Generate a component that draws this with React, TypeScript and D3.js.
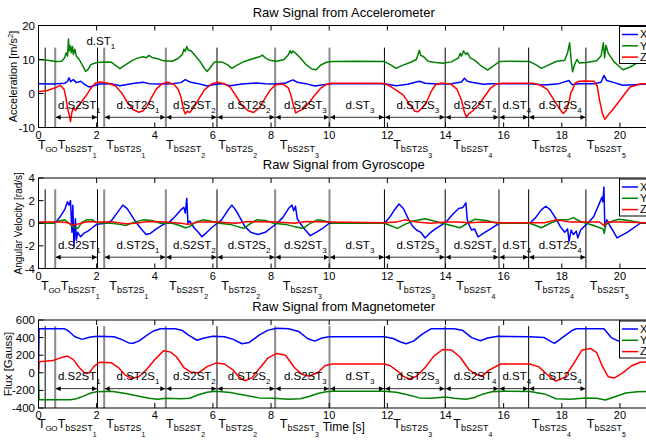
import React from 'react';
import * as d3 from 'd3';

// ---- data ----
const TIME_TICKS = [0, 2, 4, 6, 8, 10, 12, 14, 16, 18, 20];
const ACC_TICKS = [-10, 0, 10, 20];
const GYR_TICKS = [-4, -2, 0, 2, 4];
const MAG_TICKS = [-400, -200, 0, 200, 400, 600];
const AXES = ['X', 'Y', 'Z'];

const EVENT_TIMES = [0.23, 0.575, 2.03, 2.26, 4.38, 6.14, 8.14, 10.01, 11.9, 13.99, 15.84, 16.86, 18.83];
const EVENT_GREY = [false, true, false, true, true, false, true, true, false, false, true, false, false];

const PHASE_START = [0.575, 2.26, 4.38, 6.14, 8.14, 10.01, 11.9, 13.99, 15.84, 16.86];
const PHASE_END = [2.03, 4.38, 6.14, 8.14, 10.01, 11.9, 13.99, 15.84, 16.86, 18.83];
const PHASE_NAME = ['S2ST', 'ST2S', 'S2ST', 'ST2S', 'S2ST', 'ST', 'ST2S', 'S2ST', 'ST', 'ST2S'];
const PHASE_IDX = ['1', '1', '2', '2', '3', '3', '3', '4', '4', '4'];

const MARK_TIMES = [-0.02, 0.66, 2.33, 4.39, 6.18, 8.3, 12.2, 14.27, 16.97, 18.86];
const MARK_NAME = ['GO', 'bS2ST', 'bST2S', 'bS2ST', 'bST2S', 'bS2ST', 'bST2S', 'bS2ST', 'bST2S', 'bS2ST'];
const MARK_IDX = ['', '1', '1', '2', '2', '3', '3', '4', '4', '5'];

const ACC_X = [[0,2.9],[0.5,2.8],[0.9,3.0],[1.0,3.6],[1.05,4.6],[1.1,3.5],[1.2,4.1],[1.3,3.2],[1.45,3.6],[1.6,2.6],[1.75,1.9],[1.9,2.3],[2.1,2.8],[2.5,2.9],[2.8,2.3],[3.0,2.6],[3.3,3.0],[3.6,3.3],[3.8,2.9],[4.2,2.8],[4.6,2.9],[4.9,3.2],[5.05,4.1],[5.2,3.4],[5.5,2.9],[5.8,2.2],[6.0,2.6],[6.3,2.9],[6.6,2.3],[7.0,2.8],[7.5,3.1],[7.8,2.9],[8.1,2.8],[8.5,3.1],[8.75,4.0],[8.9,3.3],[9.2,2.9],[9.5,2.2],[9.8,2.6],[10.1,2.9],[11.9,2.9],[12.3,2.3],[12.7,2.7],[13.1,3.6],[13.3,3.0],[13.7,2.8],[14.2,2.9],[14.55,3.4],[14.65,4.5],[14.75,3.6],[14.9,3.3],[15.3,2.7],[15.6,2.9],[16.9,2.9],[17.4,2.5],[17.9,2.9],[18.25,3.8],[18.35,2.6],[18.6,2.9],[19.1,2.9],[19.35,3.3],[19.45,5.3],[19.55,3.8],[19.8,3.2],[20.1,2.4],[20.5,2.6],[21,2.8]];
const ACC_Y = [[0,10],[0.3,9.8],[0.6,9.4],[0.8,9.5],[0.9,10.5],[0.95,12],[1.0,11],[1.03,16],[1.06,12.5],[1.1,14],[1.13,12],[1.17,13.8],[1.2,11.5],[1.25,13],[1.3,11],[1.4,10],[1.5,8.5],[1.62,6.5],[1.7,7],[1.8,8.5],[2.0,9.1],[2.3,9.3],[2.5,9.2],[2.65,8.3],[2.8,7.3],[2.95,8.2],[3.2,9.6],[3.4,10.4],[3.6,10.8],[3.7,10.5],[3.8,11.2],[3.9,10.6],[4.1,10.2],[4.3,9.6],[4.6,9.5],[4.8,10.3],[4.95,11.5],[5.0,13],[5.05,12.4],[5.1,13.8],[5.15,12.8],[5.25,12.5],[5.4,11],[5.55,9.5],[5.7,7.5],[5.8,6.5],[5.9,7.5],[6.05,9.3],[6.3,9.3],[6.5,8.5],[6.65,7.4],[6.8,8.2],[7.1,9.5],[7.4,10.3],[7.6,10.8],[7.7,11.3],[7.8,10.5],[7.95,9.8],[8.2,9.5],[8.45,10],[8.6,11.5],[8.65,12.6],[8.7,11.8],[8.75,12.5],[8.85,11.8],[9.0,10.5],[9.2,8.5],[9.4,7.2],[9.55,7],[9.7,8.3],[9.9,9.2],[10.1,9.4],[11,9.5],[11.9,9.4],[12.1,8.5],[12.3,7.4],[12.5,8.2],[12.8,9.2],[13.0,10],[13.1,12.7],[13.15,11.2],[13.25,10.8],[13.4,9.5],[13.6,9.2],[13.9,8.9],[14.2,9.3],[14.45,10.5],[14.5,11.8],[14.55,11],[14.62,12.5],[14.7,11.5],[14.75,12],[14.85,10.5],[15.0,9.8],[15.2,8.3],[15.45,6.9],[15.6,7.8],[15.85,9.4],[16.2,9.5],[16.9,9.4],[17.1,8.5],[17.3,7.4],[17.5,8.2],[17.8,9.4],[18.1,9.8],[18.2,12],[18.27,14.9],[18.32,10],[18.37,6.4],[18.44,8.5],[18.52,10],[18.6,9],[18.9,9.2],[19.2,9.6],[19.35,11],[19.43,14.9],[19.47,10.5],[19.52,14.2],[19.6,11.8],[19.8,9.3],[20.0,7.8],[20.1,7.0],[20.35,7.8],[20.6,9.0],[21,9.4]];
const ACC_Z = [[0,0.5],[0.3,0.9],[0.55,1.6],[0.75,2.4],[0.88,1.2],[0.95,-1.5],[1.0,-4.5],[1.05,-6],[1.1,-8.3],[1.15,-5.5],[1.2,-4.2],[1.28,-5],[1.35,-3.8],[1.5,-2.2],[1.65,-0.5],[1.8,1.5],[1.95,3],[2.1,3.4],[2.4,3],[2.65,2.2],[2.85,0.3],[3.05,-2.5],[3.25,-4.7],[3.45,-5.5],[3.6,-5.1],[3.75,-3.5],[3.9,-1],[4.05,1.3],[4.25,2.9],[4.45,3.3],[4.65,2.7],[4.8,1.3],[4.9,-1],[4.98,-4.5],[5.05,-6],[5.12,-5.2],[5.2,-5.6],[5.35,-4],[5.5,-1.8],[5.7,1],[5.95,2.8],[6.15,3.3],[6.4,2.9],[6.6,1.8],[6.8,-0.8],[7.0,-3.5],[7.2,-5],[7.4,-5.6],[7.6,-4.2],[7.75,-2],[7.95,0.8],[8.15,2.6],[8.4,2.8],[8.6,1.6],[8.7,-1],[8.78,-4],[8.85,-5.7],[8.95,-5.2],[9.1,-4.6],[9.3,-2.8],[9.5,-0.5],[9.7,1.5],[9.9,2.7],[10.1,3],[11.8,3],[12.05,2.4],[12.3,1],[12.55,-0.5],[12.75,-3],[12.95,-5.2],[13.05,-5.4],[13.2,-4.2],[13.35,-2.5],[13.5,0.5],[13.65,2.5],[13.85,3.1],[14.2,2.7],[14.4,1.2],[14.55,-2],[14.65,-5.5],[14.72,-6.9],[14.8,-6],[14.95,-5],[15.15,-3.3],[15.35,-0.8],[15.55,1.6],[15.75,2.8],[15.95,3],[17.0,3],[17.25,2.5],[17.5,1.2],[17.7,-1.5],[17.9,-4.2],[18.05,-5.9],[18.15,-5],[18.25,-2.5],[18.32,0.5],[18.37,1],[18.45,3],[18.6,3.6],[18.8,3.7],[19.1,3.6],[19.22,2.2],[19.3,-2],[19.4,-6],[19.48,-7.6],[19.58,-6.5],[19.75,-4.8],[20.0,-2],[20.2,0.3],[20.35,1.9],[20.7,2.8],[21,2.9]];

const GYR_X = [[0,0],[0.5,0],[0.6,0.1],[0.75,0.6],[0.9,1.2],[1.0,1.9],[1.05,1.6],[1.1,2.0],[1.15,-0.8],[1.18,1.6],[1.22,-2],[1.27,0.4],[1.3,-1.5],[1.35,-0.8],[1.45,-1.2],[1.55,-0.9],[1.7,-0.7],[1.85,-0.4],[2.0,-0.1],[2.3,0],[2.5,0.2],[2.7,0.9],[2.9,1.6],[3.05,1.3],[3.2,0.7],[3.35,0.1],[3.5,-0.4],[3.7,-1.0],[3.85,-0.9],[4.05,-0.5],[4.3,-0.1],[4.5,0.1],[4.7,0.6],[4.9,1.2],[5.0,1.4],[5.05,0.9],[5.1,2.2],[5.14,0],[5.2,0.2],[5.35,-0.4],[5.5,-0.8],[5.62,-1.2],[5.75,-0.9],[5.95,-0.4],[6.15,0],[6.3,0.3],[6.5,1.1],[6.65,1.6],[6.8,1.1],[6.95,0.4],[7.1,-0.3],[7.3,-0.8],[7.55,-1.0],[7.8,-0.8],[8.0,-0.4],[8.2,0],[8.4,0.5],[8.6,1.3],[8.72,1.6],[8.78,1.1],[8.84,1.5],[8.9,0.4],[9.0,0],[9.15,-0.5],[9.35,-1.1],[9.55,-0.8],[9.8,-0.4],[10.0,0],[11.9,0],[12.1,0.6],[12.25,1.2],[12.4,1.7],[12.55,1.3],[12.7,0.5],[12.85,-0.2],[13.0,-0.6],[13.15,-0.8],[13.3,-1.3],[13.45,-0.9],[13.65,-0.5],[13.9,-0.1],[14.05,0.2],[14.25,0.8],[14.45,1.3],[14.6,1.4],[14.7,1.8],[14.75,0.3],[14.82,-0.2],[14.9,-0.6],[15.0,-0.5],[15.12,-1.2],[15.3,-0.9],[15.55,-0.5],[15.85,0],[16.9,0],[17.1,0.5],[17.3,1.2],[17.45,1.5],[17.6,1.2],[17.8,0.4],[17.95,-0.3],[18.1,-0.8],[18.2,-0.5],[18.25,-1.6],[18.32,-0.6],[18.4,-1.0],[18.5,-0.7],[18.55,-1.3],[18.65,-0.6],[18.8,-0.2],[18.9,0],[19.1,0.6],[19.3,1.8],[19.38,2.3],[19.41,1.9],[19.45,3.2],[19.48,-0.3],[19.55,0.3],[19.65,-0.2],[19.75,-0.6],[19.9,-1.3],[20.25,-0.8],[20.7,0],[21,0]];
const GYR_Y = [[0,0],[0.5,0],[0.7,0.2],[0.9,0.3],[1.05,0],[1.2,-0.35],[1.35,-0.45],[1.5,0.1],[1.65,0.3],[1.85,0.3],[2.0,0.05],[2.5,0],[2.8,-0.1],[3.0,-0.2],[3.3,0.1],[3.6,0.3],[3.9,0.25],[4.2,0],[4.6,0],[4.85,-0.2],[5.05,-0.4],[5.2,-0.3],[5.4,0.1],[5.65,0.3],[5.9,0.2],[6.2,0],[6.6,-0.1],[6.85,-0.3],[7.05,-0.45],[7.25,-0.1],[7.5,0.3],[7.8,0.25],[8.1,0],[8.5,-0.1],[8.8,-0.3],[9.1,-0.45],[9.35,0],[9.6,0.3],[9.85,0.2],[10.1,0],[11.9,0],[12.1,-0.2],[12.35,-0.45],[12.6,-0.1],[12.9,0.2],[13.3,0.4],[13.6,0.2],[13.9,0],[14.2,-0.2],[14.5,-0.4],[14.75,0],[15.0,0.35],[15.4,0.25],[15.8,0],[16.9,0],[17.1,-0.2],[17.3,-0.4],[17.6,0],[17.9,0.3],[18.2,0.3],[18.4,0.5],[18.6,0.2],[18.85,0],[19.1,-0.2],[19.3,-0.4],[19.42,-0.5],[19.46,-0.9],[19.52,-0.1],[19.75,0.2],[19.95,0.35],[20.3,0.25],[20.7,0.05],[21,0]];
const GYR_Z = [[0,0.1],[0.8,0.1],[1.0,0.05],[1.2,-0.15],[1.4,-0.05],[1.7,0.15],[2.0,0.1],[2.6,0.1],[3.0,-0.05],[3.3,0],[3.8,0.15],[4.4,0.1],[4.9,0],[5.15,-0.1],[5.5,0.1],[6.1,0.1],[6.8,0],[7.2,0.15],[8.2,0.1],[8.8,0],[9.2,0.15],[10,0.1],[11.9,0.05],[12.3,0.1],[12.6,0.3],[13.0,0.1],[13.5,0],[14,0.1],[14.4,0.1],[14.8,0.05],[15.3,0.1],[16,0.05],[16.9,0.05],[17.4,0.05],[17.8,0.3],[18.3,0.1],[18.9,0.1],[19.3,0.1],[19.45,-0.2],[19.55,0.1],[20,0.1],[21,0.05]];

const MAG_X = [[0,0],[0.02,500],[0.9,500],[1.05,470],[1.25,410],[1.5,380],[1.75,405],[2.0,415],[2.6,410],[2.85,380],[3.1,340],[3.25,335],[3.45,360],[3.7,420],[3.95,475],[4.2,500],[4.7,500],[4.95,480],[5.15,430],[5.45,370],[5.7,395],[6.0,415],[6.4,410],[6.7,380],[7.0,330],[7.25,345],[7.6,430],[7.9,485],[8.2,505],[8.6,500],[8.95,470],[9.25,390],[9.5,360],[9.75,395],[10.0,410],[11.9,410],[12.2,390],[12.45,350],[12.65,330],[12.9,360],[13.2,440],[13.5,500],[14.3,500],[14.6,480],[14.9,400],[15.2,365],[15.45,395],[15.8,415],[16.9,410],[17.4,400],[17.6,360],[17.75,335],[18.1,420],[18.35,480],[18.5,500],[19.45,500],[19.7,400],[19.95,360],[20.4,390],[21,410]];
const MAG_Y = [[0,0],[0.02,-305],[1.1,-305],[1.3,-295],[1.55,-265],[1.8,-230],[2.0,-215],[2.5,-210],[3.0,-235],[3.5,-270],[3.8,-290],[4.1,-300],[4.4,-290],[4.9,-295],[5.2,-290],[5.5,-250],[5.8,-220],[6.1,-210],[6.6,-225],[7.1,-255],[7.6,-285],[8.1,-290],[8.6,-300],[9.0,-295],[9.3,-270],[9.6,-235],[9.9,-215],[10.1,-210],[11.9,-210],[12.3,-220],[12.7,-250],[13.1,-285],[13.5,-290],[14.0,-275],[14.3,-290],[14.7,-300],[15.0,-280],[15.3,-240],[15.6,-215],[16.0,-210],[16.9,-212],[17.4,-240],[17.8,-295],[18.3,-300],[18.8,-285],[19.2,-290],[19.5,-310],[19.8,-275],[20.2,-230],[20.6,-215],[21,-212]];
const MAG_Z = [[0,0],[0.02,125],[0.5,140],[0.8,175],[1.0,190],[1.2,150],[1.4,60],[1.6,-5],[1.75,0],[1.9,70],[2.1,120],[2.5,115],[2.75,60],[3.0,-30],[3.2,-65],[3.45,-45],[3.7,30],[4.0,150],[4.3,250],[4.55,235],[4.75,180],[5.0,60],[5.25,5],[5.5,0],[5.8,70],[6.1,110],[6.4,100],[6.7,30],[6.9,-50],[7.1,-90],[7.35,-55],[7.6,50],[7.9,170],[8.2,220],[8.5,200],[8.8,60],[9.05,-15],[9.3,-40],[9.6,0],[9.85,80],[10.1,100],[11.9,100],[12.1,80],[12.35,20],[12.55,-40],[12.75,-70],[13.0,-40],[13.3,60],[13.6,190],[13.9,265],[14.2,260],[14.5,180],[14.8,40],[15.05,-20],[15.25,-40],[15.5,30],[15.9,100],[16.9,100],[17.2,70],[17.5,-20],[17.8,-95],[18.1,-50],[18.4,100],[18.7,260],[19.0,275],[19.2,230],[19.4,70],[19.6,-45],[19.8,-60],[20.1,0],[20.4,80],[20.7,120],[21,125]];

const COLORS = ['#0000ff', '#008000', '#ff0000'];

const xScale = d3.scaleLinear().domain([0, 21]).range([38.5, 649]);
const X0 = xScale(0);
const X1 = xScale(21);
const FONT = "'Liberation Sans', Arial, Helvetica, sans-serif";

const PANELS = [
  { title: 'Raw Signal from Accelerometer', titleY: 16.5, top: 25.5, bottom: 127.5, domain: [-10, 20], ticks: ACC_TICKS,
    series: [ACC_X, ACC_Y, ACC_Z], ylabel: 'Acceleration [m/s', ysup: '2', yend: ']', ylabelX: 17, ylabelSize: 11,
    lineTop: 13.5, arrowAt: -7, markDy: 21, markDx: 0, tickDy: 11 },
  { title: 'Raw Signal from Gyroscope', titleY: 168.5, top: 178, bottom: 268.5, domain: [-4, 4], ticks: GYR_TICKS,
    series: [GYR_X, GYR_Y, GYR_Z], ylabel: 'Angular Velocity [rad/s]', ysup: '', yend: '', ylabelX: 21.5, ylabelSize: 10,
    lineTop: 3, arrowAt: -3, markDy: 21.5, markDx: 3, tickDy: 11 },
  { title: 'Raw Signal from Magnetometer', titleY: 310.5, top: 320, bottom: 408, domain: [-400, 600], ticks: MAG_TICKS,
    series: [MAG_X, MAG_Y, MAG_Z], ylabel: 'Flux [Gauss]', ysup: '', yend: '', ylabelX: 12, ylabelSize: 11.5,
    lineTop: 530, arrowAt: -180, markDy: 20, markDx: 0, tickDy: 10.5 },
];

function Panel({ p, idx }: { p: any; idx: number }) {
  const y = d3.scaleLinear().domain(p.domain).range([p.bottom, p.top]);
  const line = d3.line<number[]>().x(d => xScale(d[0])).y(d => y(d[1]));
  const midY = (p.top + p.bottom) / 2;
  const arrowY = y(p.arrowAt);
  const lgTop = p.top + 1;

  return (
    <g>
      <text x={(X0 + X1) / 2} y={p.titleY} textAnchor="middle" fontSize={13}>{p.title}</text>

      {/* event lines */}
      {EVENT_TIMES.map((t, i) => (
        <line key={'e' + i} x1={xScale(t)} x2={xScale(t)} y1={y(p.lineTop)} y2={p.bottom}
          stroke={EVENT_GREY[i] ? '#8a8a8a' : '#000'} strokeWidth={EVENT_GREY[i] ? 2 : 1} />
      ))}

      {/* signals */}
      <g clipPath={`url(#clip${idx})`}>
        {p.series.map((s: number[][], i: number) => (
          <path key={i} d={line(s) || ''} fill="none" stroke={COLORS[i]} strokeWidth={1.5} strokeLinejoin="round" />
        ))}
      </g>

      {/* phase arrows and labels */}
      {PHASE_START.map((t0, i) => {
        const xa = xScale(t0), xb = xScale(PHASE_END[i]);
        return (
          <g key={'p' + i}>
            <line x1={xa + 0.5} x2={xb - 0.5} y1={arrowY} y2={arrowY} stroke="#000" strokeWidth={0.8}
              markerStart="url(#ah)" markerEnd="url(#ah)" />
            <text x={(xa + xb) / 2 + 3} y={arrowY - 8.5} textAnchor="middle" fontSize={11.5}>
              {'d.' + PHASE_NAME[i]}<tspan dy={4} fontSize={8}>{PHASE_IDX[i]}</tspan>
            </text>
          </g>
        );
      })}
      {idx === 0 && (
        <text x={(xScale(2.03) + xScale(2.26)) / 2} y={y(p.lineTop) - 2.5} textAnchor="middle" fontSize={11.5}>
          d.ST<tspan dy={4} fontSize={8}>1</tspan>
        </text>
      )}

      {/* axes box and ticks */}
      <rect x={X0} y={p.top} width={X1 - X0} height={p.bottom - p.top} fill="none" stroke="#000" strokeWidth={1} />
      {TIME_TICKS.map(t => (
        <g key={'xt' + t}>
          <line x1={xScale(t)} x2={xScale(t)} y1={p.bottom} y2={p.bottom - 5} stroke="#000" />
          <line x1={xScale(t)} x2={xScale(t)} y1={p.top} y2={p.top + 5} stroke="#000" />
          <text x={xScale(t)} y={p.bottom + p.tickDy} textAnchor="middle" fontSize={11}>{t}</text>
        </g>
      ))}
      {p.ticks.map((v: number) => (
        <g key={'yt' + v}>
          <line x1={X0} x2={X0 + 5} y1={y(v)} y2={y(v)} stroke="#000" />
          <text x={35} y={y(v)} dy="0.35em" textAnchor="end" fontSize={11.5}>{v}</text>
        </g>
      ))}
      <text transform={`translate(${p.ylabelX},${midY}) rotate(-90)`} textAnchor="middle" fontSize={p.ylabelSize}>
        {p.ylabel}
        {p.ysup && <tspan dy={-4} fontSize={7.5}>{p.ysup}</tspan>}
        {p.yend && <tspan dy={4}>{p.yend}</tspan>}
      </text>

      {/* event time marks */}
      {MARK_TIMES.map((t, i) => (
        <text key={'m' + i} x={xScale(t) + p.markDx} y={p.bottom + p.markDy} fontSize={12.5}>
          T<tspan dy={3} fontSize={i === 0 ? 8 : 9} letterSpacing={i === 0 ? -0.6 : 0}>{MARK_NAME[i]}</tspan>
          {MARK_IDX[i] && <tspan dy={6} fontSize={7}>{MARK_IDX[i]}</tspan>}
        </text>
      ))}

      {/* legend */}
      <rect x={619.5} y={lgTop} width={40} height={37} fill="#fff" stroke="#000" strokeWidth={1} />
      {AXES.map((a, i) => (
        <g key={'lg' + a}>
          <line x1={622} x2={638} y1={lgTop + 8 + i * 11.3} y2={lgTop + 8 + i * 11.3} stroke={COLORS[i]} strokeWidth={1.5} />
          <text x={640} y={lgTop + 8 + i * 11.3} dy="0.35em" fontSize={11}>{a}</text>
        </g>
      ))}
    </g>
  );
}

export default function App() {
  return (
    <svg width={646} height={440} fontFamily={FONT} style={{ position: 'absolute', left: 0, top: 0, background: '#fff' }}>
      <defs>
        <marker id="ah" viewBox="0 0 10 10" refX="10" refY="5" markerWidth="6" markerHeight="5"
          markerUnits="userSpaceOnUse" orient="auto-start-reverse">
          <path d="M0,0 L10,5 L0,10 z" fill="#000" />
        </marker>
        {PANELS.map((p, i) => (
          <clipPath id={`clip${i}`} key={i}>
            <rect x={X0} y={p.top} width={X1 - X0} height={p.bottom - p.top} />
          </clipPath>
        ))}
      </defs>
      <rect width={646} height={440} fill="#fff" />
      {PANELS.map((p, i) => <Panel key={i} p={p} idx={i} />)}
      <text x={(X0 + X1) / 2} y={431} textAnchor="middle" fontSize={12}>Time [s]</text>
    </svg>
  );
}
